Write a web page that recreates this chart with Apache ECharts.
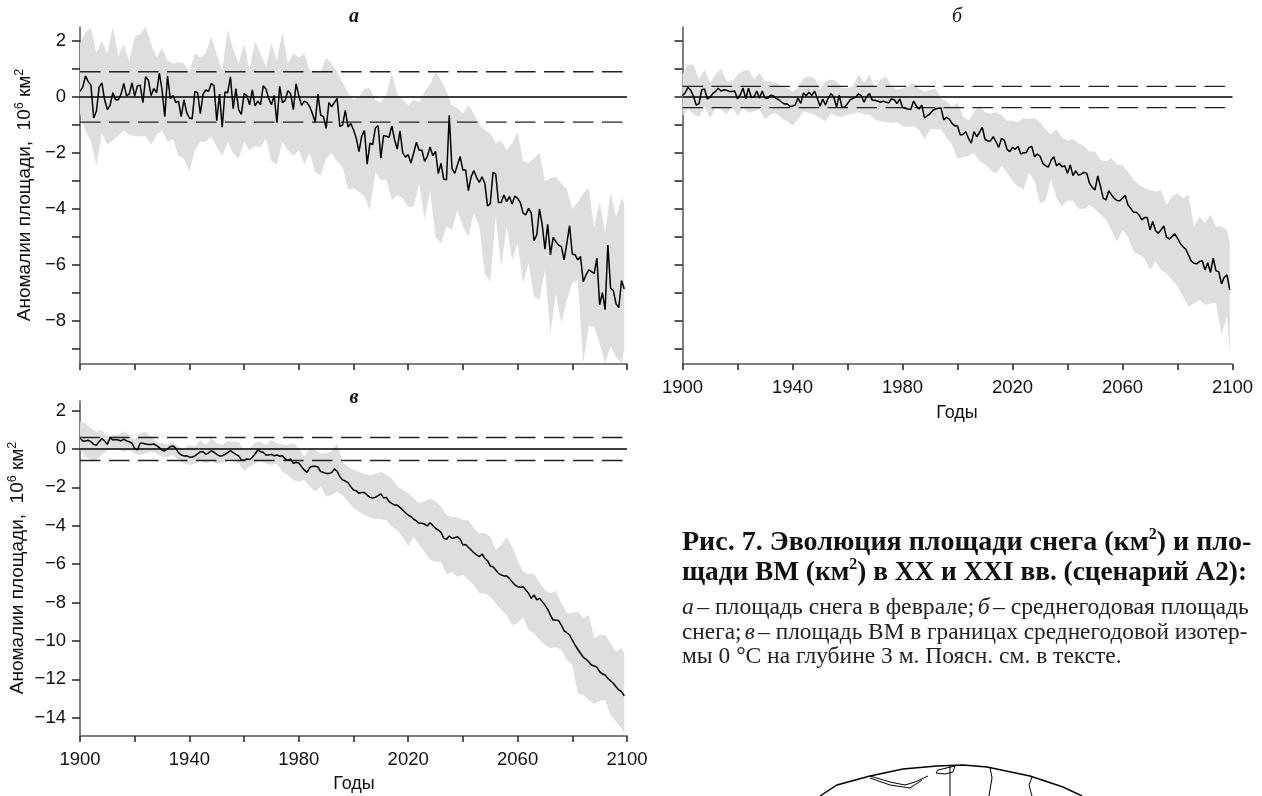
<!DOCTYPE html>
<html>
<head>
<meta charset="utf-8">
<title>Рис. 7</title>
<style>
  html, body { margin: 0; padding: 0; background: #fff; }
  #main { width: 1262px; height: 796px; }
</style>
<script src="https://cdn.jsdelivr.net/npm/echarts@6/dist/echarts.min.js"></script>
</head>
<body>
<div id="main"></div>
<script>
// ежегодные значения, 1900-2099
const meanA = [
  .2,.35,.75,.55,.42,-.75,-.5,.35,.5,-.1,-.45,-.3,.15,-.1,-.1,.1,.48,.05,.1,.5,
  .03,.4,.42,-.2,.72,.6,.05,.3,.15,.85,.25,-.7,.75,-.05,.05,-.2,-.15,-.7,-.1,-.55,
  -.75,-.78,.2,.15,-.6,.1,.25,.2,.48,.4,-.85,.1,-1.08,.18,.15,.72,-.42,.3,-.45,-.62,
  .12,.05,-.28,.25,-.32,-.15,-.28,.4,.28,-.05,-.28,.05,-.92,.38,-.2,-.12,.22,.12,-.45,.47,
  .05,-.3,-.15,-.2,-.35,-.6,-.9,.1,-.65,-.7,-1.12,-.2,-.35,-.2,-.05,-1.05,-1,-.48,-1.07,-.95,
  -1.17,-1.47,-1.95,-1.4,-1.2,-2.4,-1.65,-1.7,-1.1,-1.03,-2.18,-1.38,-1.4,-1.44,-1.03,-1.52,-1.86,-1.21,-2,-2.15,
  -2.06,-2.36,-2,-1.62,-1.9,-1.9,-2.3,-2.12,-1.79,-2.1,-1.94,-2.74,-2.37,-2.94,-2.96,-.65,-2.55,-2.73,-2.43,-2.13,
  -2.61,-2.61,-3.35,-2.85,-2.63,-2.88,-3.05,-2.85,-3.08,-3.89,-3.82,-2.7,-2.75,-3.77,-3.77,-3.5,-3.74,-3.56,-3.82,-3.54,
  -3.62,-3.77,-4.15,-4.21,-3.98,-4.15,-5.13,-4.93,-4,-4.57,-5.44,-4.55,-5.64,-5.02,-5.17,-5.29,-5.35,-5.82,-5.23,-4.6,
  -5.61,-5.64,-5.82,-5.7,-6.6,-6.36,-6.18,-6.24,-6.3,-5.76,-7.43,-6.99,-7.6,-5.29,-6.83,-6.92,-7.39,-7.52,-6.56,-6.86
]
const meanB = [
  .05,.15,.35,.24,.02,-.29,-.24,.26,.29,-.07,-.01,.12,.2,.31,.21,.26,.24,.2,.2,.21,
  -.07,.08,.32,-.07,.31,-.01,-.01,.21,-.04,.21,-.04,-.05,.06,.04,-.04,-.1,-.18,-.25,-.24,-.33,
  -.32,-.29,-.04,-.23,.14,.05,.17,.05,.21,-.04,-.33,-.07,-.29,-.04,.12,0,-.36,.06,-.37,-.36,
  -.24,-.1,-.05,0,.11,.05,-.19,.02,.12,-.12,-.12,-.15,-.19,-.15,-.19,-.21,-.07,-.1,-.24,-.07,
  -.37,-.4,-.43,-.45,-.15,-.31,-.43,-.29,-.75,-.67,-.6,-.48,-.43,-.4,-.39,-.82,-.73,-.79,-.94,-1.04,
  -1.04,-1.36,-1.33,-1.24,-1.48,-1.65,-1.24,-1.42,-1.27,-1.08,-1.51,-1.57,-1.57,-1.42,-1.6,-1.8,-1.48,-1.54,-1.87,-1.95,
  -1.8,-1.87,-1.77,-2.04,-1.99,-1.99,-1.8,-1.77,-2.13,-2.04,-2.11,-2.37,-2.45,-2.51,-2.27,-2.13,-2.46,-2.37,-2.49,-2.46,
  -2.73,-2.43,-2.81,-2.64,-2.79,-2.76,-2.69,-2.73,-3.08,-3.23,-3.32,-2.82,-3.2,-3.62,-3.68,-3.35,-3.5,-3.62,-3.7,-3.71,
  -3.62,-3.52,-3.86,-3.98,-4.12,-4.12,-4.21,-4.39,-4.31,-4.31,-4.75,-4.45,-4.77,-4.87,-4.75,-4.61,-5.01,-5.07,-4.99,-4.89,
  -5.05,-5.23,-5.35,-5.44,-5.64,-5.86,-5.94,-5.96,-5.88,-5.85,-6.18,-5.92,-6.27,-5.76,-6.21,-6.24,-6.68,-6.44,-6.36,-6.89
]
const meanV = [
  .56,.42,.42,.45,.38,.24,.2,.38,.55,.42,.24,.59,.47,.5,.47,.42,.52,.42,.38,.3,
  .03,-.05,.3,.3,.26,.24,.24,.26,.17,.07,-.07,-.1,0,.12,.16,.03,-.19,-.31,-.36,-.35,
  -.42,-.43,-.36,-.26,-.14,-.14,-.28,-.21,-.09,-.17,-.28,-.36,-.35,-.28,-.19,-.09,-.19,-.28,-.36,-.57,
  -.59,-.52,-.55,-.43,-.26,-.05,-.14,-.17,-.31,-.31,-.28,-.35,-.31,-.38,-.35,-.52,-.59,-.52,-.75,-.69,
  -.73,-.92,-1.09,-1.22,-.97,-.9,-.9,-.94,-1.18,-1.22,-1.27,-1.27,-1.23,-1.04,-1.15,-1.44,-1.61,-1.67,-1.75,-1.96,
  -2.14,-2.17,-2.31,-2.27,-2.27,-2.4,-2.52,-2.55,-2.52,-2.43,-2.34,-2.55,-2.52,-2.74,-2.83,-2.92,-2.92,-3.04,-3.18,-3.32,
  -3.44,-3.52,-3.66,-3.75,-3.87,-3.87,-3.92,-4.01,-3.84,-3.99,-4.13,-4.22,-4.34,-4.65,-4.7,-4.53,-4.65,-4.62,-4.57,-4.7,
  -5,-4.97,-5.12,-5.26,-5.4,-5.52,-5.61,-5.47,-5.69,-5.82,-6.09,-6.13,-6.3,-6.48,-6.56,-6.61,-6.61,-6.74,-6.91,-7.08,
  -7.17,-7.2,-7.17,-7.34,-7.52,-7.78,-7.6,-7.86,-7.78,-7.95,-8.13,-8.35,-8.65,-8.91,-8.91,-8.94,-9.17,-9.47,-9.57,-9.69,
  -9.95,-10.21,-10.43,-10.64,-10.85,-10.95,-11.08,-11.25,-11.3,-11.37,-11.6,-11.72,-11.77,-11.95,-12.07,-12.2,-12.38,-12.55,-12.64,-12.86
]

// границы разброса, через год + 2099
const upperA = [
  1.9,2.33,2.45,1.56,2.0,1.55,2.5,1.45,1.9,1.25,2.15,2.25,2.5,1.9,1.4,1.75,1.3,1.2,1.25,1.2,
  .9,1.55,1.4,1.55,2.15,1.5,.95,2.4,1.7,1.2,1.9,.95,2.0,1.55,1.1,1.9,1.3,2.33,1.2,1.55,
  1.4,1.55,.95,.95,.9,1.4,1.2,.9,.5,.15,-.1,0,.3,.3,-.1,-.2,.1,.85,.1,-.1,
  -.3,-.1,-.2,.2,.45,.9,.6,.2,-.3,-.4,-.6,-.3,-.6,-1.0,-1.2,-1.3,-1.65,-1.55,-1.9,-1.65,
  -1.25,-2.3,-2.35,-2.2,-2.0,-3.0,-2.9,-2.85,-3.1,-3.3,-4.0,-3.75,-3.45,-3.25,-4.65,-3.75,-4.85,-3.4,-4.3,-3.6,-3.8
]
const lowerA = [
  -.6,-1.2,-1.6,-2.45,-1.3,-1.7,-1.55,-1.4,-1.2,-1.35,-1.4,-1.4,-1.4,-1.7,-1.35,-1.2,-1.6,-1.5,-2.1,-2.2,
  -2.65,-1.9,-1.6,-1.6,-1.4,-1.8,-2.1,-1.6,-2.0,-2.2,-1.6,-1.9,-1.75,-1.8,-1.5,-2.3,-2.4,-1.6,-1.9,-2.1,
  -1.9,-2.4,-2.0,-2.7,-2.8,-2.2,-2.0,-2.3,-2.5,-3.3,-3.26,-3.38,-3.56,-4.04,-2.67,-2.96,-2.96,-3.68,-3.5,-3.62,
  -3.92,-3.92,-3.08,-4.39,-3.32,-5.0,-5.23,-4.63,-4.75,-4.04,-4.63,-4.99,-4.15,-4.63,-6.3,-6.6,-4.27,-6.06,-4.63,-5.82,
  -5.23,-6.65,-5.94,-7.13,-7.25,-6.18,-8.44,-7.01,-8.08,-7.25,-6.65,-6.54,-9.5,-8.2,-8.2,-8.8,-9.5,-8.9,-9.3,-9.5,-9
]
const upperB = [
  .8,1.15,1.15,.62,.98,.5,.8,1.0,.56,.5,.8,.92,.98,.62,.86,.56,.56,.5,.38,.32,
  .2,.32,.68,.74,.68,.26,.56,.62,.56,.32,.32,.38,.8,.5,.8,.32,.62,.74,.38,.26,
  .3,.4,.49,.3,.2,.25,.3,-.05,-.15,-.35,-.2,-.7,-.85,-.55,-.3,-.55,-.6,-.55,-.65,-.85,
  -.85,-.9,-.75,-.8,-.75,-.9,-1.15,-1.35,-1.15,-1.45,-1.55,-1.5,-1.65,-1.75,-1.95,-1.95,-2.25,-2.3,-2.19,-2.43,
  -2.43,-2.67,-2.96,-3.14,-3.26,-3.32,-3.38,-3.32,-3.86,-3.56,-3.44,-3.62,-3.5,-4.63,-4.27,-4.51,-4.21,-4.63,-4.63,-4.75,-5.23
]
const lowerB = [
  -.69,-.39,-.63,-.7,-.33,-.75,-.39,-.45,-.63,-.33,-.69,-.39,-.57,-.51,-.45,-.81,-.63,-.57,-.75,-.87,
  -1.02,-.81,-.51,-.57,-.63,-.75,-.87,-.57,-.69,-.71,-.63,-.6,-.55,-.63,-.63,-.81,-.87,-.9,-.93,-.9,
  -1.05,-1.07,-1.05,-1.17,-1.52,-1.15,-1.15,-1.15,-1.45,-1.7,-2.2,-2.15,-2.1,-2.0,-2.3,-2.4,-2.6,-2.75,-2.45,-2.7,
  -3.0,-3.2,-3.3,-2.7,-3.0,-3.8,-3.7,-2.95,-3.6,-3.9,-3.7,-3.7,-4.0,-4.0,-3.85,-4.0,-4.2,-4.39,-4.75,-5.17,
  -4.75,-4.99,-5.52,-5.64,-5.76,-6.18,-5.88,-6.18,-6.3,-6.54,-6.77,-7.13,-7.49,-7.37,-7.25,-7.43,-7.37,-7.37,-8.5,-7.85,-9.15
]
const upperV = [
  1.42,1.34,1.08,.9,.99,.64,.73,.73,.94,.73,.47,.82,.9,.64,.38,.3,.24,.38,.12,.03,
  .21,.12,.47,.21,.56,.3,.21,.42,.38,.38,-.05,.03,.35,.38,.21,.47,.3,.24,.21,.3,
  .03,-.4,.03,-.05,-.23,-.23,-.1,.3,-.66,-.92,-1.09,-1.18,-1.32,-1.35,-1.3,-1.18,-1.35,-1.53,-1.96,-2.14,
  -2.31,-2.57,-2.83,-2.74,-2.57,-2.74,-3,-3.44,-3.55,-3.55,-3.69,-3.73,-4.13,-4.39,-4.36,-4.57,-5.26,-5,-4.6,-5.09,
  -5.78,-6.39,-6.51,-6.51,-6.96,-7.34,-7.52,-7.38,-8.04,-8.56,-8.56,-8.47,-8.82,-8.65,-9.86,-9.69,-9.69,-10.12,-10.56,-10.38,-10.64
]
const lowerV = [
  -.05,-.4,-.57,-.57,-.31,-.05,-.05,-.05,-.14,-.05,-.23,-.31,-.23,-.14,-.23,-.4,-.4,-.31,-.57,-.75,
  -.83,-.75,-.63,-.75,-.63,-.75,-.75,-.57,-.57,-.75,-1.15,-.92,-.75,-.57,-.75,-.83,-.75,-1.18,-1.35,-1.61,
  -1.7,-1.61,-1.96,-2.22,-1.96,-2.48,-2.4,-2.22,-2.4,-2.74,-3.09,-3.26,-3.44,-3.56,-3.66,-3.66,-3.7,-4.05,-4.22,-4.57,
  -5.05,-4.57,-5,-5.35,-5.77,-5.87,-5.87,-6.56,-6.39,-6.65,-6.56,-6.82,-7.08,-7.52,-7.52,-7.69,-8.04,-8.39,-8.65,-9.17,
  -9.08,-8.77,-9.43,-9.6,-9.95,-10.21,-10.38,-10.33,-10.47,-10.99,-11.25,-12.73,-12.81,-13.07,-13.28,-13.11,-13.07,-13.85,-14.2,-14.55,-14.81
]

// пороги (штриховые линии)
const limitA = 0.9
const limitB = 0.38
const limitV = 0.6

const xTicks = [1900,1920,1940,1960,1980,2000,2020,2040,2060,2080,2100]
const xLabels = [1900,1940,1980,2020,2060,2100]
const yTicksAB = [-9,-8,-7,-6,-5,-4,-3,-2,-1,0,1,2]
const yLabelsAB = [-8,-6,-4,-2,0,2]
const yTicksV = [-14,-12,-10,-8,-6,-4,-2,0,2]

const years = []
for (let y = 1900; y < 2100; y++) years.push(y)
const bandYears = years.filter(y => y % 2 == 0).concat([2099])

const tickFont = 'Liberation Sans, Arial, sans-serif'
const serif = 'Liberation Serif, Times New Roman, serif'
const dash = [20.5, 8.5]

function pairs(xs, ys) {
  return xs.map((x, i) => [x, ys[i]])
}

function hline(value, index, dashed) {
  return {
    type: 'line',
    xAxisIndex: index,
    yAxisIndex: index,
    silent: true,
    showSymbol: false,
    z: 3,
    lineStyle: dashed
      ? { color: '#222', width: 1.4, type: dash }
      : { color: '#000', width: 1.4 },
    data: [[1900, value], [2100, value]]
  }
}

// серая полоса: один многоугольник по верхней и нижней границе
function bandSeries(index, upper, lower) {
  let rows = bandYears.map((y, i) => [y, upper[i], lower[i]])
  return {
    type: 'custom',
    xAxisIndex: index,
    yAxisIndex: index,
    silent: true,
    clip: true,
    z: 1,
    encode: { x: 0, y: [1, 2] },
    data: rows,
    renderItem: function (params, api) {
      if (params.dataIndex != 0) return null
      let top = rows.map(r => api.coord([r[0], r[1]]))
      let bottom = rows.map(r => api.coord([r[0], r[2]])).reverse()
      return {
        type: 'polygon',
        shape: { points: top.concat(bottom) },
        style: { fill: '#dedede', stroke: 'none' }
      }
    }
  }
}

function panelSeries(index, mean, upper, lower, limit) {
  return [
    bandSeries(index, upper, lower),
    hline(limit, index, true),
    hline(-limit, index, true),
    hline(0, index, false),
    {
      type: 'line',
      xAxisIndex: index,
      yAxisIndex: index,
      showSymbol: false,
      z: 4,
      lineStyle: { color: '#000', width: 1.5 },
      data: pairs(years, mean)
    }
  ]
}

function xAxisFor(index, showLabels) {
  return {
    type: 'value',
    gridIndex: index,
    min: 1900,
    max: 2100,
    axisLine: { onZero: false, lineStyle: { color: '#555', width: 1.5 } },
    axisTick: { length: 6, lineStyle: { color: '#222', width: 1.5 }, customValues: xTicks },
    axisLabel: {
      show: showLabels,
      customValues: xLabels,
      margin: 14,
      color: '#111',
      fontFamily: tickFont,
      fontSize: 18.5,
      formatter: v => String(v)
    },
    splitLine: { show: false }
  }
}

function yAxisFor(index, min, ticks, labels) {
  return {
    type: 'value',
    gridIndex: index,
    min: min,
    max: 2.5,
    axisLine: { onZero: false, show: true, lineStyle: { color: '#555', width: 1.5 } },
    axisTick: { show: true, length: 8, lineStyle: { color: '#222', width: 1.5 }, customValues: ticks },
    axisLabel: {
      show: labels != null,
      customValues: labels || [],
      margin: 14,
      color: '#111',
      fontFamily: tickFont,
      fontSize: 18.5,
      formatter: v => String(v).replace('-', '\u2212')
    },
    splitLine: { show: false }
  }
}

function label(text, x, y, extra) {
  return {
    type: 'text',
    x: x,
    y: y,
    rotation: extra && extra.rotation || 0,
    z: 10,
    style: Object.assign({
      text: text,
      align: 'center',
      verticalAlign: 'middle',
      textAlign: 'center',
      textVerticalAlign: 'middle',
      fill: '#111'
    }, extra && extra.style)
  }
}

const axisTitleStyle = {
  rich: {
    t: { font: '19px ' + tickFont, fill: '#111', lineHeight: 24 },
    s: { font: '12.5px ' + tickFont, fill: '#111', lineHeight: 24, verticalAlign: 'top' }
  }
}
const yTitle = '{t|Аномалии площади,  10}{s|6}{t| км}{s|2}'

function capStyle(size) {
  return {
    rich: {
      b: { font: 'bold ' + size + 'px ' + serif, fill: '#111', lineHeight: 32 },
      s: { font: 'bold 16px ' + serif, fill: '#111', lineHeight: 28, verticalAlign: 'top' }
    },
    align: 'left',
    textAlign: 'left'
  }
}
function noteRich(size) {
  return {
    rich: {
      n: { font: size + 'px ' + serif, fill: '#222' },
      i: { font: 'italic ' + size + 'px ' + serif, fill: '#222' }
    },
    align: 'left',
    textAlign: 'left'
  }
}

function stroke(points, width) {
  return {
    type: 'polyline',
    shape: { points: points },
    style: { stroke: '#000', lineWidth: width || 1, fill: 'none' }
  }
}

const chart = echarts.init(document.getElementById('main'))
chart.setOption({
  animation: false,
  backgroundColor: '#fff',
  grid: [
    { left: 80, top: 27, width: 547, height: 337 },
    { left: 682.5, top: 27, width: 550, height: 337 },
    { left: 80, top: 401, width: 547, height: 335 }
  ],
  xAxis: [xAxisFor(0, false), xAxisFor(1, true), xAxisFor(2, true)],
  yAxis: [
    yAxisFor(0, -9.54, yTicksAB, yLabelsAB),
    yAxisFor(1, -9.54, yTicksAB, null),
    yAxisFor(2, -14.95, yTicksV, yTicksV)
  ],
  series: [].concat(
    panelSeries(0, meanA, upperA, lowerA, limitA),
    panelSeries(1, meanB, upperB, lowerB, limitB),
    panelSeries(2, meanV, upperV, lowerV, limitV)
  ),
  graphic: [
    label('а', 354, 17, { style: { font: 'italic bold 20px ' + serif } }),
    label('б', 957, 17, { style: { font: 'italic 20px ' + serif } }),
    label('в', 354, 398, { style: { font: 'italic bold 20px ' + serif } }),
    label(yTitle, 25, 195, { rotation: Math.PI / 2, style: axisTitleStyle }),
    label(yTitle, 18, 568, { rotation: Math.PI / 2, style: axisTitleStyle }),
    label('Годы', 957, 413, { style: { font: '18px ' + tickFont } }),
    label('Годы', 354, 784, { style: { font: '18px ' + tickFont } }),
    label('{b|Рис. 7. Эволюция площади снега (км}{s|2}{b|) и пло-}', 682, 543, { style: capStyle(28) }),
    label('{b|щади ВМ (км}{s|2}{b|) в XX и XXI вв. (сценарий А2):}', 682, 573, { style: capStyle(27.3) }),
    label('{i|а} {n|– площадь снега в феврале;} {i|б} {n|– среднегодовая площадь}', 682, 608, { style: noteRich(23.7) }),
    label('{n|снега;} {i|в} {n|– площадь ВМ в границах среднегодовой изотер-}', 682, 633, { style: noteRich(23.3) }),
    label('{n|мы 0 °С на глубине 3 м. Поясн. см. в тексте.}', 682, 657, { style: noteRich(23.5) }),
    stroke([[820,796],[837,785],[870,776],[903,769],[937,766],[963,765],[987,767],[1030,776],[1063,787],[1082,796]], 1.4),
    stroke([[950,766],[950,796]], 1),
    stroke([[870,776],[890,782],[905,785],[915,782],[928,776]], 1),
    stroke([[870,778],[890,785],[910,788],[922,780]], 1),
    stroke([[955,766],[938,770],[936,773],[945,774],[953,772],[955,766]], 1),
    stroke([[990,767],[992,778],[989,796]], 1),
    stroke([[1032,777],[1029,785],[1032,796]], 1)
  ]
})
</script>
</body>
</html>
